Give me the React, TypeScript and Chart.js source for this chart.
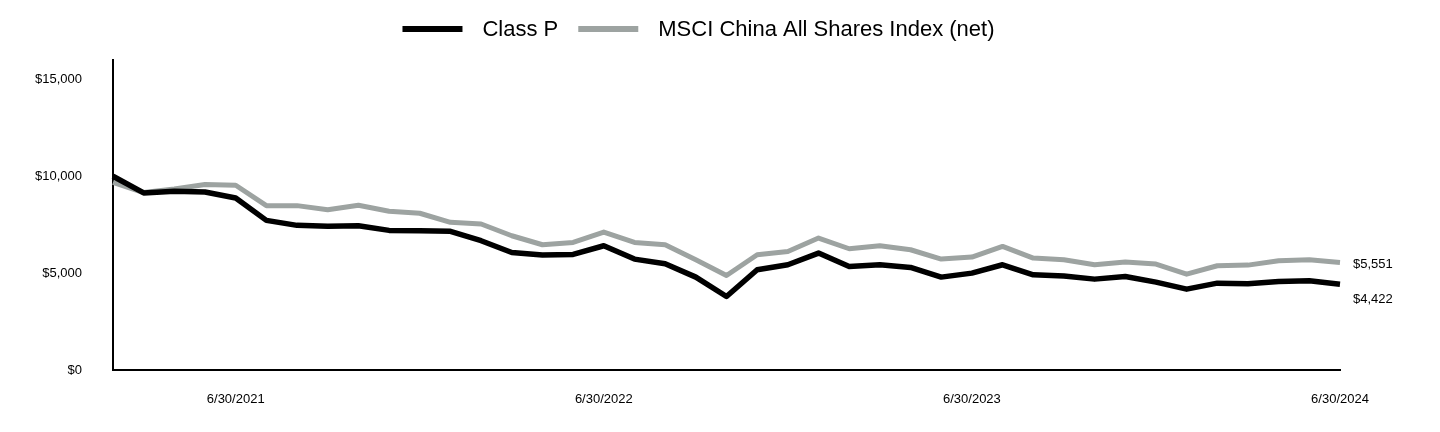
import React, { useEffect, useRef } from "react";
import { Chart, registerables } from "chart.js";

Chart.register(...registerables);

const categories: string[] = [
  "2/28/2021", "3/31/2021", "4/30/2021", "5/31/2021", "6/30/2021", "7/31/2021",
  "8/31/2021", "9/30/2021", "10/31/2021", "11/30/2021", "12/31/2021",
  "1/31/2022", "2/28/2022", "3/31/2022", "4/30/2022", "5/31/2022", "6/30/2022",
  "7/31/2022", "8/31/2022", "9/30/2022", "10/31/2022", "11/30/2022", "12/31/2022",
  "1/31/2023", "2/28/2023", "3/31/2023", "4/30/2023", "5/31/2023", "6/30/2023",
  "7/31/2023", "8/31/2023", "9/30/2023", "10/31/2023", "11/30/2023", "12/31/2023",
  "1/31/2024", "2/29/2024", "3/31/2024", "4/30/2024", "5/31/2024", "6/30/2024",
];

const classP: number[] = [
  10000, 9139, 9224, 9190, 8880, 7724, 7465, 7413, 7448, 7206, 7190,
  7155, 6672, 6067, 5930, 5965, 6413, 5724, 5482, 4794, 3791, 5172, 5431,
  6034, 5344, 5431, 5293, 4794, 5000, 5431, 4914, 4850, 4690, 4827, 4534,
  4172, 4483, 4448, 4568, 4603, 4422,
];

const msciChina: number[] = [
  9690, 9160, 9345, 9570, 9535, 8483, 8483, 8276, 8500, 8190, 8090,
  7620, 7534, 6930, 6465, 6585, 7120, 6585, 6465, 5690, 4878, 5948, 6120,
  6810, 6258, 6413, 6206, 5724, 5827, 6379, 5775, 5690, 5431, 5569, 5465,
  4948, 5379, 5413, 5638, 5690, 5551,
];

const xTickLabels: string[] = ["6/30/2021", "6/30/2022", "6/30/2023", "6/30/2024"];
const yTickValues: number[] = [0, 5000, 10000, 15000];
const seriesNames: string[] = ["Class P", "MSCI China All Shares Index (net)"];
const seriesColors: string[] = ["#000000", "#9da3a1"];

const FONT = "'Liberation Sans', Arial, sans-serif";

const fmt = (v: number) => "$" + v.toLocaleString("en-US");

const legendPlugin = {
  id: "customLegend",
  afterDraw(chart: any) {
    const ctx = chart.ctx;
    ctx.save();
    ctx.font = `22px ${FONT}`;
    const boxW = 60;
    const boxH = 6;
    const gap = 20;
    let total = 0;
    seriesNames.forEach((n, i) => {
      total += boxW + gap + ctx.measureText(n).width;
      if (i < seriesNames.length - 1) total += gap;
    });
    const center = (chart.chartArea.left + chart.chartArea.right) / 2 - 28;
    let x = center - total / 2;
    const y = 29;
    seriesNames.forEach((n, i) => {
      ctx.fillStyle = seriesColors[i];
      ctx.fillRect(x, y - boxH / 2, boxW, boxH);
      x += boxW + gap;
      ctx.fillStyle = "#000";
      ctx.textBaseline = "middle";
      ctx.textAlign = "left";
      ctx.fillText(n, x, y + 1);
      x += ctx.measureText(n).width + gap;
    });
    ctx.restore();
  },
};

const endLabelPlugin = {
  id: "endLabels",
  afterDatasetsDraw(chart: any) {
    const ctx = chart.ctx;
    const yScale = chart.scales.y;
    const xScale = chart.scales.x;
    const last = categories.length - 1;
    const x = xScale.getPixelForValue(last) + 13;
    const vals = [classP[last], msciChina[last]];
    const ys = vals.map((v) => yScale.getPixelForValue(v));
    const order = [0, 1].sort((a, b) => ys[a] - ys[b]);
    const minGap = 35;
    if (ys[order[1]] - ys[order[0]] < minGap) ys[order[1]] = ys[order[0]] + minGap;
    ctx.save();
    ctx.font = `13px ${FONT}`;
    ctx.fillStyle = "#000";
    ctx.textAlign = "left";
    ctx.textBaseline = "middle";
    vals.forEach((v, i) => ctx.fillText(fmt(v), x, ys[i] + 2));
    ctx.restore();
  },
};

export default function App() {
  const ref = useRef<HTMLCanvasElement | null>(null);
  useEffect(() => {
    if (!ref.current) return;
    const chart = new Chart(ref.current, {
      type: "line",
      data: {
        labels: categories,
        datasets: [
          {
            label: seriesNames[0],
            data: classP,
            borderColor: seriesColors[0],
            backgroundColor: seriesColors[0],
            borderWidth: 5.5,
            pointRadius: 0,
            tension: 0,
            borderJoinStyle: "round",
          },
          {
            label: seriesNames[1],
            data: msciChina,
            borderColor: seriesColors[1],
            backgroundColor: seriesColors[1],
            borderWidth: 5,
            pointRadius: 0,
            tension: 0,
            borderJoinStyle: "round",
          },
        ],
      },
      options: {
        animation: false,
        responsive: true,
        maintainAspectRatio: false,
        layout: { padding: { top: 60, right: 100, left: 0, bottom: 0 } },
        plugins: {
          legend: { display: false },
          tooltip: { enabled: false },
        },
        scales: {
          x: {
            offset: false,
            grid: { display: false, drawTicks: false },
            border: { display: true, color: "#000", width: 2 },
            ticks: {
              autoSkip: false,
              maxRotation: 0,
              minRotation: 0,
              padding: 22,
              color: "#000",
              font: { family: FONT, size: 13 },
              callback: (_v: any, i: number) =>
                xTickLabels.includes(categories[i]) ? categories[i] : "",
            },
            afterFit: (s: any) => {
              s.height = 62;
            },
          },
          y: {
            min: 0,
            max: 16000,
            grid: { display: false, drawTicks: false },
            border: { display: true, color: "#000", width: 2 },
            afterBuildTicks: (s: any) => {
              s.ticks = yTickValues.map((v) => ({ value: v }));
            },
            ticks: {
              padding: 31,
              color: "#000",
              font: { family: FONT, size: 13 },
              callback: (v: any) => fmt(Number(v)),
            },
            afterFit: (s: any) => {
              s.width = 113;
            },
          },
        },
      },
      plugins: [legendPlugin, endLabelPlugin],
    } as any);
    return () => chart.destroy();
  }, []);
  return (
    <div style={{ position: "absolute", left: 0, top: 0, width: 1440, height: 432, background: "#fff" }}>
      <canvas ref={ref} />
    </div>
  );
}
